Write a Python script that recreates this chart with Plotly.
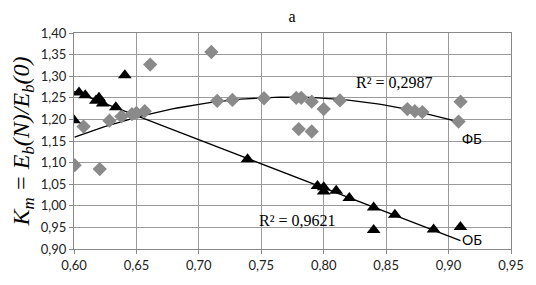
import numpy as np
import plotly.graph_objects as go

# ОБ series (triangles)
ob_x = [0.600, 0.604, 0.609, 0.6175, 0.620, 0.623, 0.6335, 0.6407, 0.739,
        0.795, 0.800, 0.800, 0.810, 0.8205, 0.840, 0.840, 0.857, 0.888, 0.9095]
ob_y = [1.198, 1.262, 1.256, 1.243, 1.250, 1.237, 1.228, 1.302, 1.108,
        1.046, 1.043, 1.033, 1.035, 1.018, 0.996, 0.944, 0.979, 0.945, 0.951]

# ФБ series (diamonds)
fb_x = [0.6005, 0.6077, 0.6206, 0.6284, 0.638, 0.6464, 0.650, 0.6567, 0.661,
        0.710, 0.7147, 0.7269, 0.7522, 0.778, 0.780, 0.782, 0.7904, 0.7904,
        0.800, 0.813, 0.867, 0.873, 0.879, 0.908, 0.9096]
fb_y = [1.094, 1.1835, 1.085, 1.197, 1.207, 1.212, 1.215, 1.219, 1.327,
        1.356, 1.243, 1.245, 1.249, 1.250, 1.1775, 1.250, 1.241, 1.172,
        1.224, 1.244, 1.224, 1.219, 1.217, 1.195, 1.241]

x_ticks = [0.60, 0.65, 0.70, 0.75, 0.80, 0.85, 0.90, 0.95]
y_ticks = [0.90, 0.95, 1.00, 1.05, 1.10, 1.15, 1.20, 1.25, 1.30, 1.35, 1.40]

# trendlines
ob_coef = np.polyfit(ob_x, ob_y, 1)
fb_coef = np.polyfit(fb_x, fb_y, 2)
ob_lx = np.linspace(min(ob_x), max(ob_x), 50)
fb_lx = np.linspace(min(fb_x), max(fb_x), 80)

fig = go.Figure()
fig.add_trace(go.Scatter(x=fb_lx, y=np.polyval(fb_coef, fb_lx), mode="lines",
                         line=dict(color="black", width=1.3), showlegend=False,
                         hoverinfo="skip"))
fig.add_trace(go.Scatter(x=ob_lx, y=np.polyval(ob_coef, ob_lx), mode="lines",
                         line=dict(color="black", width=1.3), showlegend=False,
                         hoverinfo="skip"))
fig.add_trace(go.Scatter(x=fb_x, y=fb_y, mode="markers", name="ФБ",
                         marker=dict(symbol="diamond", size=11, color="#8a8a8a"),
                         showlegend=False))
fig.add_trace(go.Scatter(x=ob_x, y=ob_y, mode="markers", name="ОБ",
                         marker=dict(symbol="triangle-up", size=12, color="black"),
                         showlegend=False))

serif = "Liberation Serif, Times New Roman, serif"
sans = "Lato, Open Sans, Liberation Sans, sans-serif"

fig.add_annotation(x=0.857, y=1.285, text="R² = 0,2987", showarrow=False,
                   font=dict(family=serif, size=16, color="black"))
fig.add_annotation(x=0.779, y=0.965, text="R² = 0,9621", showarrow=False,
                   font=dict(family=serif, size=16, color="black"))
fig.add_annotation(x=0.919, y=1.156, text="ФБ", showarrow=False,
                   font=dict(family=sans, size=14, color="black"))
fig.add_annotation(x=0.919, y=0.922, text="ОБ", showarrow=False,
                   font=dict(family=sans, size=14, color="black"))

fig.update_layout(
    width=528, height=277,
    margin=dict(l=62, r=14, t=25, b=28),
    paper_bgcolor="white", plot_bgcolor="white",
    separators=", ",
    showlegend=False,
    title=dict(text="a", xref="container", x=0.538, xanchor="center",
               yref="container", y=0.99, yanchor="top", pad=dict(t=0),
               font=dict(family=serif, size=16, color="black")),
    font=dict(family=sans, size=13, color="#222"),
)
fig.update_xaxes(range=[0.60, 0.95], tickvals=x_ticks, tickformat=".2f",
                 showgrid=True, gridcolor="#9a9a9a", gridwidth=1,
                 showline=True, linecolor="#888", mirror=True,
                 ticks="outside", ticklen=4, tickcolor="#888",
                 zeroline=False, tickfont=dict(size=13))
fig.update_yaxes(range=[0.90, 1.40], tickvals=y_ticks, tickformat=".2f",
                 showgrid=True, gridcolor="#9a9a9a", gridwidth=1,
                 showline=True, linecolor="#888", mirror=True,
                 ticks="outside", ticklen=4, tickcolor="#888",
                 zeroline=False, tickfont=dict(size=13),
                 title=dict(text="<i>K<sub>m</sub> = E<sub>b</sub>(N)/E<sub>b</sub>(0)</i>",
                            font=dict(family=serif, size=24, color="black"),
                            standoff=4))

fig.write_html("out.html")
